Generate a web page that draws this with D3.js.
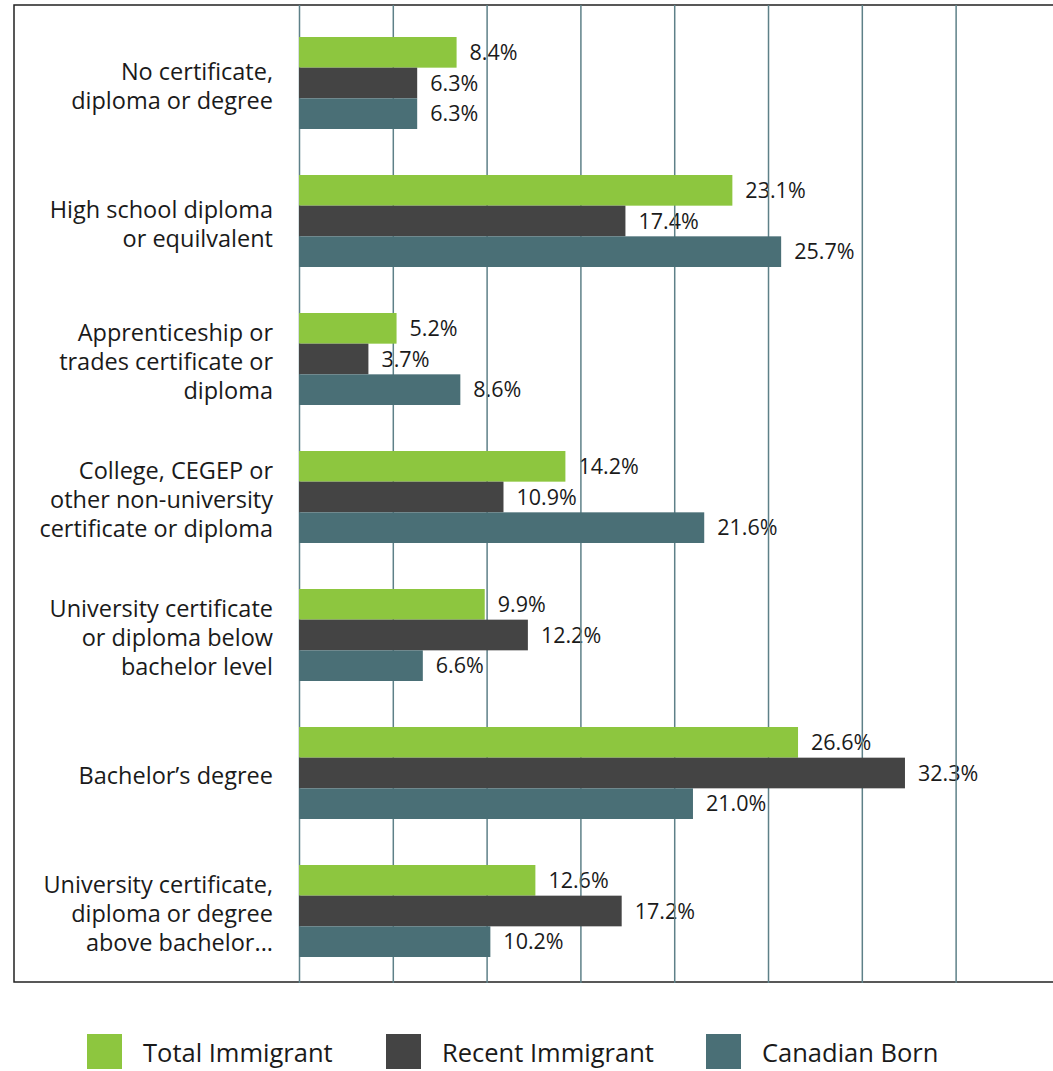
<!DOCTYPE html>
<html>
<head>
<meta charset="utf-8">
<script src="https://cdn.jsdelivr.net/npm/d3@7"></script>
<style>
  body { margin: 0; background: #fff; }
  svg { display: block; font-family: "Open Sans", "Lato", sans-serif; }
</style>
</head>
<body>
<script>
// chart data
const categories = [
    ["No certificate,", "diploma or degree"],
    ["High school diploma", "or equilvalent"],
    ["Apprenticeship or", "trades certificate or", "diploma"],
    ["College, CEGEP or", "other non-university", "certificate or diploma"],
    ["University certificate", "or diploma below", "bachelor level"],
    ["Bachelor\u2019s degree"],
    ["University certificate,", "diploma or degree", "above bachelor..."]
];
const seriesNames = ["Total Immigrant", "Recent Immigrant", "Canadian Born"];
const totalImmigrant = [8.4, 23.1, 5.2, 14.2, 9.9, 26.6, 12.6];
const recentImmigrant = [6.3, 17.4, 3.7, 10.9, 12.2, 32.3, 17.2];
const canadianBorn = [6.3, 25.7, 8.6, 21.6, 6.6, 21.0, 10.2];
const gridTicks = [0, 5, 10, 15, 20, 25, 30, 35];

const colors = ["#8dc63f", "#444444", "#4a6f76"];
const width = 1053;
const height = 1071;

var svg = d3.select("body").append("svg")
    .attr("width", width)
    .attr("height", height);

// scales
var x_scale = d3.scaleLinear().domain([0, 35.5]).range([299, 965]);
var y_scale = d3.scaleBand()
    .domain(d3.range(categories.length))
    .range([14, 980])
    .paddingInner(1 / 3)
    .paddingOuter(1 / 6);
var sub_scale = d3.scaleBand()
    .domain(d3.range(seriesNames.length))
    .range([0, y_scale.bandwidth()]);

var allSeries = [totalImmigrant, recentImmigrant, canadianBorn];
var rows = [];
allSeries.forEach((vals, s) => {
    vals.forEach((v, i) => rows.push({ s: s, i: i, v: v }));
});

// frame
svg.append("path")
    .attr("d", "M1053,5H14V982H1053")
    .attr("fill", "none")
    .attr("stroke", "#222")
    .attr("stroke-width", 1.5);

// value labels (drawn under the grid, like the original)
svg.selectAll("text.value")
    .data(rows)
    .enter()
    .append("text")
    .attr("class", "value")
    .attr("x", d => x_scale(d.v) + 13)
    .attr("y", d => y_scale(d.i) + sub_scale(d.s) + sub_scale.bandwidth() / 2)
    .attr("dy", "0.36em")
    .attr("font-size", 21.5)
    .attr("fill", "#1a1a1a")
    .text(d => d.v.toFixed(1) + "%");

// vertical gridlines
svg.append("g")
    .attr("transform", "translate(0,983)")
    .call(d3.axisBottom(x_scale).tickValues(gridTicks).tickSize(-978).tickFormat(""))
    .call(g => g.select(".domain").remove())
    .call(g => g.selectAll(".tick line").attr("stroke", "#5e8088").attr("stroke-width", 1.5));

// bars
svg.selectAll("rect.bar")
    .data(rows)
    .enter()
    .append("rect")
    .attr("class", "bar")
    .attr("x", x_scale(0))
    .attr("y", d => y_scale(d.i) + sub_scale(d.s))
    .attr("width", d => x_scale(d.v) - x_scale(0))
    .attr("height", sub_scale.bandwidth())
    .attr("fill", d => colors[d.s]);

// category labels
var labels = svg.selectAll("text.cat")
    .data(categories)
    .enter()
    .append("text")
    .attr("class", "cat")
    .attr("text-anchor", "end")
    .attr("font-size", 23.5)
    .attr("fill", "#1a1a1a");
labels.each(function (lines, i) {
    var cy = y_scale(i) + y_scale.bandwidth() / 2 + 3;
    var lh = 29;
    d3.select(this).selectAll("tspan")
        .data(lines)
        .enter()
        .append("tspan")
        .attr("x", 273)
        .attr("y", (l, k) => cy + (k - (lines.length - 1) / 2) * lh)
        .attr("dy", "0.36em")
        .text(l => l);
});

// legend
var legendX = [87, 386, 706];
var legend = svg.selectAll("g.legend")
    .data(seriesNames)
    .enter()
    .append("g")
    .attr("class", "legend")
    .attr("transform", (d, i) => "translate(" + legendX[i] + ",1034)");
legend.append("rect")
    .attr("width", 35)
    .attr("height", 35)
    .attr("fill", (d, i) => colors[i]);
legend.append("text")
    .attr("x", 56)
    .attr("y", 19)
    .attr("dy", "0.36em")
    .attr("font-size", 25.5)
    .attr("fill", "#1a1a1a")
    .text(d => d);
</script>
</body>
</html>
